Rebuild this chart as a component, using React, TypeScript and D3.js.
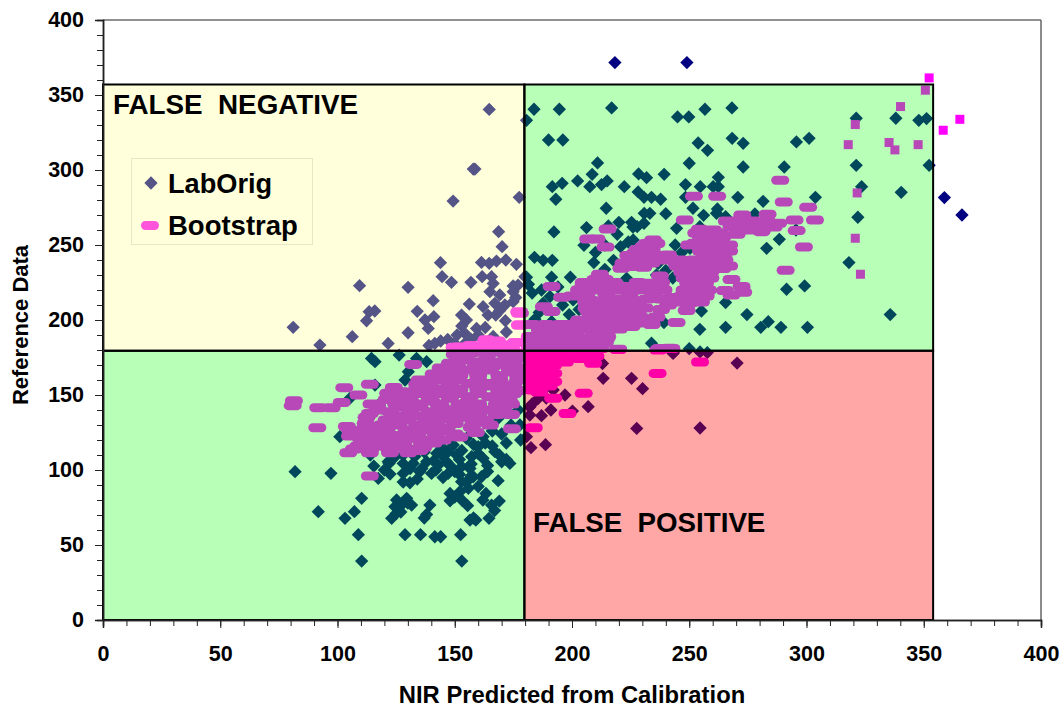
import React, { useEffect, useRef } from "react";
import * as d3 from "d3";

const majorTicks = [0, 50, 100, 150, 200, 250, 300, 350, 400];
const minorTicks = d3.range(0, 401, 10);

// quadrant limits
const cutX = 179.7;
const cutY = 179.5;
const boxRight = 354;
const boxTop = 357;

// [x, y] reference points, hand
const labOrigGreen: number[][] = [
  [183.8,340.5],[194.6,340.5],[216.9,341.4],[245,335.4],[249.8,335.4],[256.7,340.5],[268.2,341.4],[321.2,334.5],[338.1,334.5],[347.9,333.1],[351.2,334.3],[180.6,333.1],
  [190,320],[196.1,320],[253.8,318],[257.8,313.1],[268.3,321.1],[273,317.8],[295.7,318.7],[301.1,321.1],
  [210.9,304.7],[250,304.5],[273,302],[290.5,302],[321.2,303.1],[352.3,303.1],
  [208.6,297.1],[228.4,297.4],[231.8,294.9],[239.3,297.1],[262.4,295.1],
  [191.6,288.9],[195.8,291.1],[202.4,292.7],[207.6,288.9],[212.6,290.3],[215,292.7],[222.3,288.9],[248.4,290.3],[254.7,288.9],[262.4,288.9],[260.2,288.9],[323.5,288.9],
  [193.1,280.5],[228.2,285.4],[230.7,281.8],[233.9,281.8],[237.8,280.5],[248.4,281.8],[270.7,281.8],[281.5,279.1],[303.8,281.8],[340.4,285.1],
  [214.6,274.5],[251.6,274.5],[230.8,271.1],[233.2,271.1],[240,270.9],[256.1,269.8],[261.6,271.1],[265.5,268.9],[278,270.7],[321.9,268.5],
  [206.2,261.6],[215.5,262.7],[220,265.1],[225.4,265.1],[227.8,262.2],[230.7,264.5],[244.6,261.1],[192.3,258.7],[219.3,257.1],[254.5,262.2],[295.5,260],
  [205.1,249.8],[220.7,248.9],[226.1,253.4],[246.7,244.9],[250.3,247.8],[288.4,253.8],[283,247.8],
  [184,241.8],[187.7,239.8],[191.6,239.8],[209.3,238.3],[217.7,239.8],[236.8,237.8],[318.1,238.3],
  [180.6,228.5],[191.3,228.5],[199.3,228.5],[214,233.8],[223.3,227.8],[181.4,223.8],[190.6,215.6],[200.5,213.4],[291.5,220.5],[299.2,222.7],
  [265.5,211.6],[255.2,206],[274.6,203.6],[198.8,203.6],[187.7,211.2],[184.2,200.5],[191.3,198.9],[335.7,203.6],
  [283.7,198.9],[280.5,195.1],[289.1,195.1],[300.4,195.1],[265.5,195.1],[254.5,193.8],[239.2,198.3],[207.6,193.8],
  [233.9,184.5],[250,180.9],
  // lower left
  [116,172.2],[114.5,174.4],[126.3,176.6],[128.8,160],[130.2,165.5],[138,172.2],[133.7,174.4],[116,156.6],[105.3,147.8],[119.5,146.6],[101,122.2],
  [81.9,98.9],[97.2,97.8],[115.5,102.6],[122,104.4],[122.4,97.3],[117.4,94.4],[110.3,81.1],[91.8,72.2],[107.2,72.2],[103.2,67.8],[108.9,56.9],[110.3,39.3],[153,39.3],
  [128.8,56.9],[135.4,56.9],[141.5,55.5],[144,55.5],[152.5,56.9],[123.1,67.8],[125.2,80],[124.5,75.5],[127.3,76.6],[129.5,81.1],[131.6,76.6],[138,70.4],[139.4,76.6],
  [148,79.5],[148,84.4],[152.9,92.2],[152.2,85.5],[155.8,87.8],[155.5,76.2],[156.5,66.6],[159,66.6],[164.6,67.8],[163.3,84.4],[165.7,76.6],[169,79.3],[168.5,92.9],
  [161.4,95.5],[157.9,95.5],[130.9,91.5],[128,97.7],[135.1,98.9],[140.1,97.7],[147.2,97.7],[156.5,101],[152.9,102.2],[173.5,104.4],[170,105.5],[167.1,112.2],[162.1,122.2],
  [168.5,134.4],[177.1,140],[177.8,130],[178.1,120],[149.4,116.6],[155,121.1],[160,115.5],[157.2,108.9],[162.1,107.8],[142.3,111.1],[138,105.5],[132.3,104.4],[128,104.4],
  [121.6,105.5],[144.4,115.5],[150.8,110],[146.5,105.5],[143,103.3],
  // dark mass just under the bootstrap cloud
  [124,108],[128,110],[133,109],[137,112],[141,106],[145,109],[148,103],[152,107],[153,113],[157,104],[160,111],[164,103],[166,116],[169,110],[172,107],[158,117],[163,118],[147,112],
  [136,101],[142,100],[150,99],[131,101],[164,99],[170,124],[174,130],[166,126],[172,118],[157,96],[152,97],[145,95],[134,94],[128,92],[155,92],[160,89],[150,82],[153,80],[127,72],[125,71],
  [130,78],[162,80],[167,73],[137,68],[158,68],[114,110],[120,100],
  // hidden under the upper cloud, peeking through the gaps
  [183,218],[187,220],[194,222],[196,210],[203,207],[186,205],[214,250],[236,230],[228,243],[240,233],[243,228],[210,245],[224,252],[268,262],[262,274],[226,262],[244,250],
];

const labOrigRed: number[][] = [
  [213,171],[213.3,161.1],[225.4,161.1],[230.1,154.2],[206.9,142.2],[200.2,139.3],[191,140],[187,136.2],[182,136.6],[185.6,147.7],[192,153.3],[227.6,127.7],
  [180.6,122.2],[182.5,114.9],[188.7,116.9],[243.1,177.7],[254.6,128],[270.4,171.3],[254.6,178.7],[257.7,178.3],[243.2,178.3],[189,148],[183,144],[197,150],[182,142],
];

const labOrigYellow: number[][] = [
  [164.7,340.4],[157.9,300.6],[158.6,300.6],[149.3,279.3],[177.5,281.8],[168.7,258.9],[170.2,248.9],[143.9,238.2],[144.6,228.9],[148.6,225.1],[156.9,225.1],[161.4,238.4],
  [164.7,237.8],[167.8,239.3],[171.8,240],[176.3,237.1],[161.7,228.9],[165.7,228.9],[166.4,224.4],[174.9,222.7],[177,223.3],[179.9,228.9],[181.3,223.8],[165,218.9],[169.2,216.7],
  [174.9,218.9],[109.4,222.9],[130.1,221.8],[140.8,212.9],[156.2,210.6],[115.9,206],[113.5,205.5],[112.4,199.5],[134,205.8],[137.3,200],[141.1,202.2],[138.7,194.4],[152.9,203.3],
  [155,200],[159.3,194.4],[162.1,208.9],[164.2,203.3],[167.5,203.3],[167.1,211.1],[171.4,210],[174.9,212.2],[171.6,199.5],[81.1,195.1],[92.5,183.3],[106.3,188.9],[121.6,184.4],
  [130.1,191.5],[141.5,184.4],[154.3,191.1],[154.3,184.4],[150,184.4],[166.4,189],[153,196],[151,190],[157,187],[160,190],[147,187],[144,186],[139,183],[163,195],[172,192],[176,215],[169,206],
];

// the few points above the shaded box
const labOrigOutside: number[][] = [
  [218.3,371.6],[249,371.6],[358.8,281.6],[366.3,270],
];

const bootstrapUpper: number[][] = [
  [288.8,293.2],[252,282.5],[261.9,282.5],[290.3,278.7],[300.7,275.1],[248.1,266.7],[303.6,266.7],[294.9,266.7],[272.6,270],[283.4,270.5],[268.7,264.5],[275.8,264.5],[287.9,264.5],
  [280.8,258.9],[270.2,257.1],[295.8,259.6],[298.9,248.7],[291.1,233.2],
  [215.2,260.7],[206.9,254],[210.5,254],[214.3,248.7],[234.6,253.4],[230.4,248.9],[226.8,244.5],[232.5,244.5],[226.1,240],[230.4,240],[221.1,234.5],[230.4,235.2],[225.4,235.6],
  [254.5,260.5],[260.2,260],[252.4,251.1],[260.9,253.4],[265.9,247.1],[256,245.1],[264.5,242.3],[241,243.4],[244.6,237.8],[251.7,237.8],[258.8,237.8],[264.2,234.3],[249.6,232.3],
  [256,233.4],[237.5,229.4],[268,227],[249.6,224.5],[256.7,224.5],[272.3,222.3],[273,218.5],[265.2,219.6],[268,216.7],
  [211.9,230.5],[191.3,222.3],[204.8,222.3],[210.5,223.4],[221.9,222.3],[232.5,224.5],[238.9,220],[195.8,215.2],[206.2,215.6],[214.7,216.7],[224.7,217.8],[234.6,217.8],[250.3,217.8],
  [241,210],[249.6,211.2],[248.9,206.3],[217.6,211.2],[228.2,211.2],[206.2,207.8],[218.3,205.6],[188,208.9],[191.3,205.6],[228.2,203.4],[233.9,200.5],[244.6,198.3],[225.4,195.6],
  [210.5,200],[213.3,194.5],[214.7,187.8],[199.1,193.4],[186.3,193.4],[192,193.4],[186.3,187.8],[193.4,187.8],[202,186.7],[184.2,182.3],[192,182.3],[199.1,182.3],[177.8,204.5],
  [177.8,196.7],[219.7,180.5],[236.8,180],[241.7,181.1],[189.1,186.6],[199,187.7],[210.5,187.7],[184.9,183.3],[207.6,182.2],[192,183.3],
  [163.6,186.6],[173.5,182.2],[150,181.7],[159.3,180],[177.5,205.5],[178,196.6],[163.5,186.6],[150,181.8],[170.6,183.3],[159.3,181.1],
  // solid parts of the cloud
  [266,266],[271,266],[277,266],[283,266],[268,262],[274,262],[280,262],[286,262],[275,260],[281,260],
  [253,258],[259,258],[263,258],[255,255],[260,255],[264,255],[250,250],[256,250],[262,250],[267,250],[255,246],[262,246],[267,246],[258,242],[264,242],
  [240,240],[246,240],[252,240],[258,240],[265,240],[245,236],[250,236],[256,236],[262,236],[267,236],[247,232],[253,232],[259,232],
  [248,228],[254,228],[259,228],[248,220],[253,220],[258,220],[247,216],[252,216],[257,216],[246,212],[251,212],[255,212],
  [232,251],[236,251],[228,247],[234,247],[224,243],[230,243],[236,243],[222,238],[228,238],[234,238],
  [210,227],[214,227],[205,225],[212,225],[218,225],[203,220],[209,220],[215,220],[221,220],[227,220],[233,220],[239,220],
  [200,216],[206,212],[212,212],[220,214],[226,213],[232,214],[238,214],[243,215],[207,206],[213,206],[220,206],[208,202],[214,202],[222,202],[229,202],[236,202],
  [208,198],[214,198],[220,198],[228,198],[205,194],[212,194],[220,194],
  [183,197],[189,197],[195,197],[202,197],[208,197],[182,189],[188,189],[195,189],[202,189],[209,189],[215,189],[182,185],[188,185],[195,185],[202,185],[208,185],[214,185],
  [182,181],[188,181],[194,181],[200,181],[206,181],[212,181],
  [152,182],[157,183],[163,183],[168,182],[174,181],[176,185],[168,186],
  [208,213],[213,209],[222,210],[231,208],[238,207],[225,206],[218,208],[228,225],[238,225],[216,203],[224,199],[234,197],[203,200],[199,197],
];

const bootstrapLower: number[][] = [
  [81.4,146.2],[80.9,142.9],[91.8,141.5],[97.5,141.5],[101.8,145],[91.4,128.2],[102.9,154.9],[113.8,157.1],[108.9,150],[114.5,144],[132.3,170.4],[113.8,96],
  [121.6,151.1],[127.3,152.2],[133.7,153.3],[138,158.9],[145.1,162.2],[147.9,171.1],[155,173.3],[163.6,173.3],[172.1,173.3],[176.4,174.4],[147.9,165.5],[156.5,166.6],[165,166.6],
  [173.5,165.5],[139.4,155.5],[147.9,156.6],[156.5,157.7],[165,157.7],[174.9,156.6],[130.9,146.6],[139.4,147.8],[147.9,147.8],[156.5,148.9],[165,148.9],[170.7,147.8],
  [113.8,137.7],[122.4,138.9],[130.9,137.7],[139.4,138.9],[147.9,140],[156.5,140],[165,140],[170.7,140.4],[112.4,135.1],[120.9,133.3],[129.5,133.3],[138,133.3],[146.5,134.4],[155,135.1],[162.9,133.3],
  [105.3,126.6],[105.3,122.6],[112.4,125.5],[120.9,126.6],[129.5,126.6],[138,126.6],[146.5,127.7],[157.2,128.4],[174.4,127.5],[128,121.1],[133.7,121.1],[108.9,116],[116.7,116],[125.2,115.5],[136.6,115.1],
  [104.6,111.5],[113.8,111.5],[122.4,111.5],[130.2,111.5],
  // solid parts of the cloud
  [150,177],[157,178],[164,177],[171,178],[176,178],
  [151,172],[159,172],[167,172],[175,171],[144,168],[151,169],[159,169],[166,169],[173,169],[177,168],
  [141,164],[152,163],[160,163],[169,163],[177,163],[135,160],[143,160],[151,160],[160,160],[169,160],[177,160],
  [134,157],[143,154],[152,154],[160,154],[169,153],[177,153],[124,155],[130,150],[125,149],[136,151],[143,151],[152,151],[160,151],[169,151],[175,151],
  [121,147],[125,144],[134,144],[143,144],[152,144],[160,144],[168,144],[174,144],
  [117,142],[126,142],[135,142],[144,143],[152,142],[160,142],[168,142],[174,137],[117,140],[126,136],[135,136],[143,137],[152,137],[160,137],[168,137],
  [112,131],[119,130],[126,130],[134,130],[142,131],[150,131],[158,131],[165,130],
  [104,129],[112,128],[119,123],[126,123],[134,123],[142,124],[150,124],[159,125],[110,121],[116,121],[122,120],[140,120],[145,120],[152,122],
  [112,118],[120,118],[128,118],[136,118],[141,118],[107,114],[114,114],[122,114],[130,114],[135,113],
  [140,160],[147,152],[156,146],[163,156],[172,156],[130,142],[140,146],[148,134],[155,140],[138,128],[126,133],[132,126],[144,126],[116,126],[173,147],
  // false positive corner
  [236.5,164.4],[205,151.1],[192,147.8],[198.1,137.7],[183.7,128.2],[219.7,180.4],[237.5,181],[242.4,181],[209,171.1],[187.7,175.5],[192,170],[192,164.4],[187.7,168.9],[183.5,168.9],
  [183.5,161.1],[188.4,160],[183.5,153.3],[192,158.9],[203.4,174.4],[196.2,175.5],[208.3,174.4],[254.6,172],
  [183,176],[190,176],[197,176],[204,176],[210,176],[183,172],[190,172],[197,172],[183,165],[190,165],[183,157],[190,156],[186,152],
];

const bootstrapSquares: number[][] = [
  [352.3,361.4],[350.7,353.2],[340.1,342.3],[320.8,330.3],[317.8,316.9],[335.2,318.3],[337.7,313.4],[347.6,316.9],[358.3,326.5],[365.4,333.8],[321.6,284.7],[320.8,254.5],[323,230.5],
];

const FONT = "'Liberation Sans', Arial, sans-serif";
const navy = "#000080";
const magenta = "#ff00ff";

export default function App() {
  const svgRef = useRef<SVGSVGElement>(null);

  useEffect(() => {
    const width = 1062;
    const height = 707;
    const margin = { left: 103, top: 20, right: 21, bottom: 87 };
    const svg = d3.select(svgRef.current).attr("width", width).attr("height", height);

    // remove old element before rebuild
    svg.selectAll("*").remove();

    const x = d3.scaleLinear().domain([0, 400]).range([margin.left, width - margin.right]);
    const y = d3.scaleLinear().domain([0, 400]).range([height - margin.bottom, margin.top]);

    svg.append("rect").attr("width", width).attr("height", height).attr("fill", "#fff");

    // plot border
    svg.append("path")
      .attr("d", `M${x(0)},${y(400)}H${x(400)}`)
      .attr("fill", "none").attr("stroke", "#222").attr("stroke-width", 1);
    svg.append("path")
      .attr("d", `M${x(400)},${y(400)}V${y(0)}`)
      .attr("fill", "none").attr("stroke", "#666").attr("stroke-width", 1.5);

    const diamond = d3.symbol(d3.symbolSquare, 88)();
    const diamonds = [...labOrigGreen, ...labOrigRed, ...labOrigYellow, ...labOrigOutside];
    svg.append("g").selectAll("path").data(diamonds).join("path")
      .attr("d", diamond)
      .attr("transform", (d) => `translate(${x(d[0])},${y(d[1])}) rotate(45)`)
      .attr("fill", navy);

    const pills = [...bootstrapUpper, ...bootstrapLower];
    svg.append("g").selectAll("rect").data(pills).join("rect")
      .attr("x", (d) => x(d[0]) - 9).attr("y", (d) => y(d[1]) - 4.5)
      .attr("width", 18).attr("height", 9).attr("rx", 4.5)
      .attr("fill", magenta);

    svg.append("g").selectAll("rect").data(bootstrapSquares).join("rect")
      .attr("x", (d) => x(d[0]) - 4.5).attr("y", (d) => y(d[1]) - 4.5)
      .attr("width", 9).attr("height", 9)
      .attr("fill", magenta);

    // legend sits under the shading
    const legend = svg.append("g");
    legend.append("rect").attr("x", 131.5).attr("y", 158.5).attr("width", 181).attr("height", 86)
      .attr("fill", "none").attr("stroke", "#dcdcdc").attr("stroke-width", 1);
    legend.append("path").attr("d", diamond).attr("transform", "translate(151,183) rotate(45)").attr("fill", navy);
    legend.append("rect").attr("x", 141).attr("y", 221).attr("width", 18).attr("height", 9).attr("rx", 4.5).attr("fill", magenta);

    // translucent quadrants go over the marks
    const quadrants = [
      { x0: 0, x1: cutX, y0: cutY, y1: boxTop, fill: "rgb(255,255,150)", a: 0.33 },
      { x0: cutX, x1: boxRight, y0: cutY, y1: boxTop, fill: "rgb(0,255,0)", a: 0.28 },
      { x0: 0, x1: cutX, y0: 0, y1: cutY, fill: "rgb(0,255,0)", a: 0.28 },
      { x0: cutX, x1: boxRight, y0: 0, y1: cutY, fill: "rgb(255,0,0)", a: 0.35 },
    ];
    svg.append("g").selectAll("rect").data(quadrants).join("rect")
      .attr("x", (d) => x(d.x0)).attr("y", (d) => y(d.y1))
      .attr("width", (d) => x(d.x1) - x(d.x0)).attr("height", (d) => y(d.y0) - y(d.y1))
      .attr("fill", (d) => d.fill).attr("fill-opacity", (d) => d.a);

    svg.append("g").selectAll("rect").data(quadrants).join("rect")
      .attr("x", (d) => x(d.x0)).attr("y", (d) => y(d.y1))
      .attr("width", (d) => x(d.x1) - x(d.x0)).attr("height", (d) => y(d.y0) - y(d.y1))
      .attr("fill", "none").attr("stroke", "#000").attr("stroke-width", 2);

    // axes
    const styleAxis = (g: any) => {
      g.select(".domain").attr("stroke", "#222").attr("stroke-width", 1.5);
      g.selectAll(".tick line").attr("stroke", "#222");
      g.selectAll("text")
        .attr("font-family", FONT).attr("font-weight", "bold").attr("font-size", 21.5).attr("fill", "#000");
    };
    const bottom = svg.append("g").attr("transform", `translate(0,${y(0)})`);
    bottom.append("g").call(d3.axisBottom(x).tickValues(minorTicks).tickSize(6).tickFormat(() => "")).call(styleAxis);
    bottom.append("g").call(d3.axisBottom(x).tickValues(majorTicks).tickSize(8).tickPadding(18).tickFormat(d3.format("d"))).call(styleAxis);

    const left = svg.append("g").attr("transform", `translate(${x(0)},0)`);
    left.append("g").call(d3.axisLeft(y).tickValues(minorTicks).tickSize(6).tickFormat(() => "")).call(styleAxis);
    left.append("g").call(d3.axisLeft(y).tickValues(majorTicks).tickSize(8).tickPadding(11).tickFormat(d3.format("d"))).call(styleAxis);

    const label = (txt: string, px: number, py: number, size: number) =>
      svg.append("text").attr("x", px).attr("y", py).text(txt)
        .attr("font-family", FONT).attr("font-weight", "bold").attr("font-size", size)
        .attr("fill", "#000").style("white-space", "pre");

    label("FALSE  NEGATIVE", 113, 114, 27.8);
    label("FALSE  POSITIVE", 533, 532, 27.7);
    label("LabOrig", 168, 193, 27.2);
    label("Bootstrap", 168, 235, 27.5);

    label("NIR Predicted from Calibration", 572, 703, 23.8).attr("text-anchor", "middle");
    label("Reference Data", 0, 0, 22)
      .attr("text-anchor", "middle")
      .attr("transform", "translate(28,325) rotate(-90)");
  }, []);

  return (
    <svg ref={svgRef} style={{ position: "absolute", left: 0, top: 0, display: "block" }} />
  );
}
